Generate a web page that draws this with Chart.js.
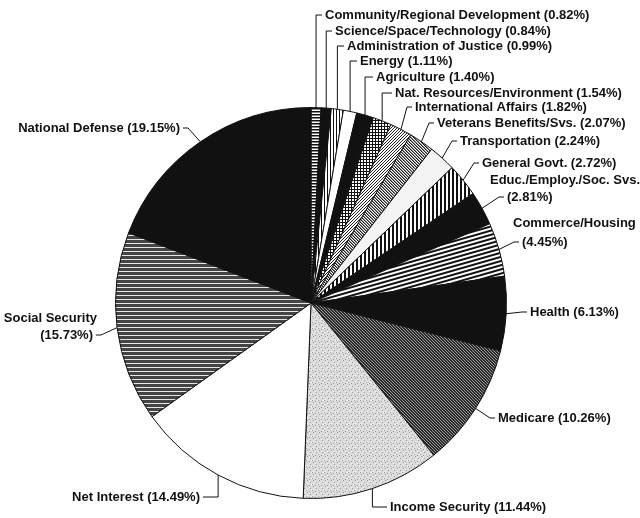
<!DOCTYPE html>
<html>
<head>
<meta charset="utf-8">
<script src="https://cdn.jsdelivr.net/npm/chart.js@4/dist/chart.umd.min.js"></script>
<style>
html, body { margin: 0; padding: 0; background: #fff; }
canvas { display: block; }
</style>
</head>
<body>
<canvas id="chart" width="640" height="518"></canvas>
<script>
// Budget outlays by function, percent of total
const CATEGORIES = [
	'Community/Regional Development', 'Science/Space/Technology', 'Administration of Justice',
	'Energy', 'Agriculture', 'Nat. Resources/Environment', 'International Affairs',
	'Veterans Benefits/Svs.', 'Transportation', 'General Govt.', 'Educ./Employ./Soc. Svs.',
	'Commerce/Housing', 'Health', 'Medicare', 'Income Security', 'Net Interest',
	'Social Security', 'National Defense'
]
const SHARES = [0.82, 0.84, 0.99, 1.11, 1.40, 1.54, 1.82, 2.07, 2.24, 2.72, 2.81,
	4.45, 6.13, 10.26, 11.44, 14.49, 15.73, 19.15]

// Fill styles, one per slice
const FILLS = ['hlines', 'black', 'vlines', 'white', 'black', 'grid', 'diagUp',
	'diagDown', 'light', 'vbars', 'black', 'slantBars', 'black', 'medicare',
	'stipple', 'white', 'ssLines', 'black']

// Where each label sits: text position, alignment and how the leader bends
const LABEL_LAYOUT = [
	{ x: 325, y: 15, align: 'left', leader: 'vertical' },
	{ x: 335, y: 31, align: 'left', leader: 'vertical' },
	{ x: 347, y: 46, align: 'left', leader: 'vertical' },
	{ x: 360, y: 61, align: 'left', leader: 'vertical' },
	{ x: 376, y: 77, align: 'left', leader: 'vertical' },
	{ x: 395, y: 93, align: 'left', leader: 'vertical' },
	{ x: 415, y: 107, align: 'left', leader: 'direct' },
	{ x: 437, y: 123, align: 'left', leader: 'direct' },
	{ x: 460, y: 141, align: 'left', leader: 'direct' },
	{ x: 482, y: 163, align: 'left', leader: 'direct' },
	{ x: 507, y: 197, align: 'left', leader: 'direct', split: { x: 490, y: 180 } },
	{ x: 522, y: 242, align: 'left', leader: 'direct', split: { x: 513, y: 223 } },
	{ x: 530, y: 312, align: 'left', leader: 'direct' },
	{ x: 498, y: 418, align: 'left', leader: 'direct' },
	{ x: 390, y: 507, align: 'left', leader: 'vertical' },
	{ x: 200, y: 497, align: 'right', leader: 'vertical' },
	{ x: 93, y: 335, align: 'right', leader: 'direct', split: { x: 97, y: 318 } },
	{ x: 180, y: 128, align: 'right', leader: 'direct' }
]

// Patterns

function tile(w, h, paint) {
	const c = document.createElement('canvas')
	c.width = w
	c.height = h
	const g = c.getContext('2d')
	g.fillStyle = '#fff'
	g.fillRect(0, 0, w, h)
	paint(g)
	return c
}

function makeFill(ctx, kind) {
	let t
	switch (kind) {
		case 'black': return '#111'
		case 'white': return '#fff'
		case 'light': return '#f3f3f3'
		case 'hlines':
			t = tile(3, 3, g => { g.fillStyle = '#111'; g.fillRect(0, 0, 3, 1.5) })
			break
		case 'vlines':
			t = tile(3, 3, g => { g.fillStyle = '#111'; g.fillRect(0, 0, 1, 3) })
			break
		case 'grid':
			t = tile(3, 3, g => { g.fillStyle = '#111'; g.fillRect(0, 0, 3, 1); g.fillRect(0, 0, 1, 3) })
			break
		case 'diagUp':
			t = tile(3, 3, g => {
				g.fillStyle = '#222'
				g.fillRect(0, 2, 1, 1); g.fillRect(1, 1, 1, 1); g.fillRect(2, 0, 1, 1)
			})
			break
		case 'diagDown':
			t = tile(3, 3, g => {
				g.fillStyle = '#222'
				g.fillRect(0, 0, 1, 1); g.fillRect(1, 1, 1, 1); g.fillRect(2, 2, 1, 1)
				g.fillStyle = '#888'
				g.fillRect(1, 0, 1, 1); g.fillRect(2, 1, 1, 1); g.fillRect(0, 2, 1, 1)
			})
			break
		case 'vbars':
			t = tile(4, 4, g => { g.fillStyle = '#111'; g.fillRect(0, 0, 2, 4) })
			break
		case 'slantBars':
			t = tile(4, 4, g => { g.fillStyle = '#111'; g.fillRect(0, 0, 4, 2) })
			break
		case 'medicare':
			t = tile(3, 3, g => {
				g.fillStyle = '#999'
				g.fillRect(0, 0, 3, 3)
				g.fillStyle = '#2a2a2a'
				for (let i = 0; i < 3; i++) {
					g.fillRect(i, i, 1, 1)
					g.fillRect((i + 1) % 3, i, 1, 1)
				}
			})
			break
		case 'stipple':
			t = tile(6, 6, g => {
				g.fillStyle = '#dcdcdc'
				g.fillRect(0, 0, 6, 6)
				g.fillStyle = '#9a9a9a'
				g.fillRect(1, 0, 1, 1); g.fillRect(4, 2, 1, 1); g.fillRect(0, 4, 1, 1); g.fillRect(3, 5, 1, 1)
				g.fillStyle = '#f4f4f4'
				g.fillRect(3, 1, 1, 1); g.fillRect(5, 4, 1, 1); g.fillRect(1, 3, 1, 1)
			})
			break
		case 'ssLines':
			t = tile(4, 4, g => {
				g.fillStyle = '#444'; g.fillRect(0, 0, 4, 3)
				g.fillStyle = '#e6e6e6'; g.fillRect(0, 3, 4, 1)
			})
			break
	}
	const p = ctx.createPattern(t, 'repeat')
	if (kind === 'slantBars') {
		p.setTransform(new DOMMatrix().rotate(-16))
	}
	return p
}

// Labels with leader lines

const FONT = 'bold 13px "Liberation Sans", Arial, sans-serif'

function labelLines(i) {
	const pct = '(' + SHARES[i].toFixed(2) + '%)'
	if (LABEL_LAYOUT[i].split) {
		return [CATEGORIES[i], pct]
	}
	return [CATEGORIES[i] + ' ' + pct]
}

const leaderLabels = {
	id: 'leaderLabels',
	afterDraw(chart) {
		const ctx = chart.ctx
		const arcs = chart.getDatasetMeta(0).data
		ctx.save()
		ctx.font = FONT
		ctx.fillStyle = '#111'
		ctx.strokeStyle = '#111'
		ctx.lineWidth = 1
		ctx.textBaseline = 'middle'
		arcs.forEach(function(arc, i) {
			const lay = LABEL_LAYOUT[i]
			const { x, y, startAngle, endAngle, outerRadius } =
				arc.getProps(['x', 'y', 'startAngle', 'endAngle', 'outerRadius'], true)
			const mid = (startAngle + endAngle) / 2
			const ax = x + Math.cos(mid) * outerRadius
			const ay = y + Math.sin(mid) * outerRadius
			const dir = lay.align === 'left' ? -1 : 1
			const endX = lay.x + dir * 3
			const kneeX = lay.leader === 'vertical' ? ax : lay.x + dir * 8

			ctx.beginPath()
			ctx.moveTo(ax, ay)
			ctx.lineTo(kneeX, lay.y)
			ctx.lineTo(endX, lay.y)
			ctx.stroke()

			ctx.textAlign = lay.align
			const lines = labelLines(i)
			if (lines.length === 2) {
				ctx.fillText(lines[0], lay.split.x, lay.split.y)
				ctx.fillText(lines[1], lay.x, lay.y)
			} else {
				ctx.fillText(lines[0], lay.x, lay.y)
			}
		})
		ctx.restore()
	}
}

const canvas = document.getElementById('chart')
const ctx = canvas.getContext('2d')

new Chart(canvas, {
	type: 'pie',
	data: {
		labels: CATEGORIES,
		datasets: [{
			data: SHARES,
			backgroundColor: FILLS.map(f => makeFill(ctx, f)),
			borderColor: '#111',
			borderWidth: 1
		}]
	},
	options: {
		responsive: false,
		animation: false,
		layout: { padding: { left: 115, top: 107, right: 133, bottom: 19 } },
		plugins: {
			legend: { display: false },
			tooltip: { enabled: false }
		}
	},
	plugins: [leaderLabels]
})
</script>
</body>
</html>
